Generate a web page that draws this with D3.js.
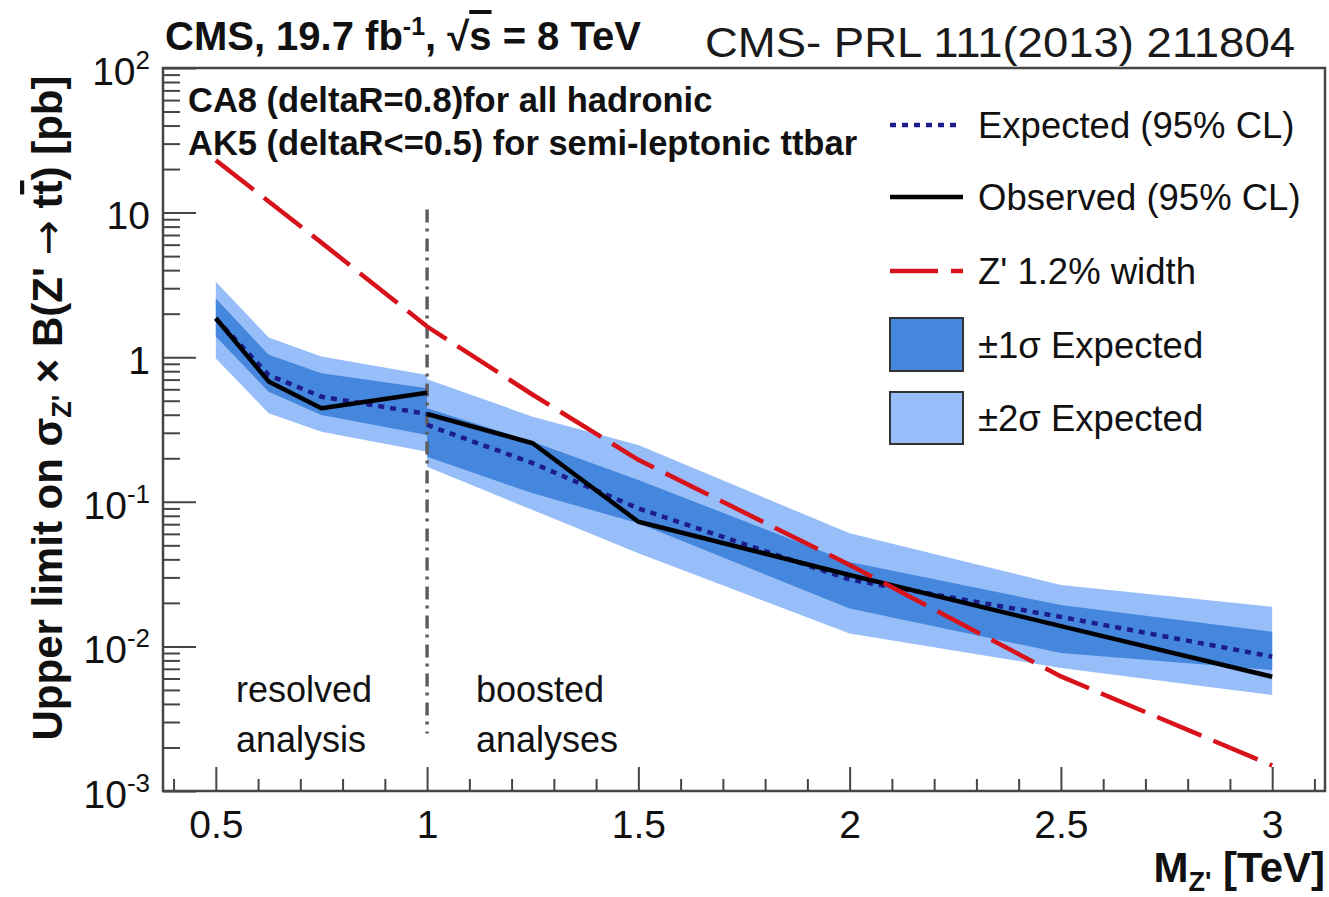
<!DOCTYPE html>
<html>
<head>
<meta charset="utf-8">
<script src="https://cdn.jsdelivr.net/npm/d3@7"></script>
<style>
  html, body { margin: 0; padding: 0; background: #ffffff; }
  svg text { font-family: "Liberation Sans", Arial, Helvetica, sans-serif; fill: #111; }
</style>
</head>
<body>
<svg id="chart" width="1329" height="897"></svg>
<script>
// ---- Limits on sigma(Z') x B(Z' -> ttbar), in pb, versus Z' mass in TeV ----

// Resolved analysis (low mass)
const resolvedMass     = [0.5, 0.625, 0.75, 1.0];
const resolvedObserved = [1.86, 0.68, 0.443, 0.568];
const resolvedExpected = [1.85, 0.753, 0.533, 0.405];
const resolvedPlus1    = [2.55, 1.04, 0.774, 0.61];
const resolvedMinus1   = [1.39, 0.577, 0.398, 0.29];
const resolvedPlus2    = [3.33, 1.37, 1.01, 0.753];
const resolvedMinus2   = [0.98, 0.41, 0.305, 0.222];

// Boosted analyses (high mass)
const boostedMass     = [1.0, 1.25, 1.5, 2.0, 2.5, 3.0];
const boostedObserved = [0.405, 0.254, 0.0728, 0.0312, 0.0138, 0.00617];
const boostedExpected = [0.34, 0.185, 0.090, 0.0290, 0.016, 0.0085];
const boostedPlus1    = [0.443, 0.26, 0.1415, 0.0384, 0.0193, 0.0126];
const boostedMinus1   = [0.205, 0.1145, 0.071, 0.0183, 0.009, 0.00687];
const boostedPlus2    = [0.703, 0.388, 0.247, 0.0605, 0.0266, 0.0188];
const boostedMinus2   = [0.175, 0.0877, 0.044, 0.0123, 0.0071, 0.00461];

// Theory: Z' with 1.2% width
const zprimeMass = [0.5, 0.75, 1.0, 1.25, 1.5, 2.0, 2.5, 3.0];
const zprimeXsec = [23, 6.2, 1.63, 0.55, 0.195, 0.0366, 0.0062, 0.0015];

// Boundary between resolved and boosted regimes
const boundaryMass  = 1.0;
const boundaryRange = [0.0025, 10.5];

// Axes
const xDomain = [0.375, 3.125];
const yDomain = [1e-3, 1e2];
const xMajorTicks = [0.5, 1, 1.5, 2, 2.5, 3];
const xMinorTicks = [0.4, 0.6, 0.7, 0.8, 0.9, 1.1, 1.2, 1.3, 1.4, 1.6, 1.7, 1.8, 1.9,
                     2.1, 2.2, 2.3, 2.4, 2.6, 2.7, 2.8, 2.9, 3.1];
const yMajorTicks = [1e-3, 1e-2, 1e-1, 1, 10, 100];
const yMinorFactors = [2, 3, 4, 5, 6, 7, 8, 9];

const legendLabels = ["Expected (95% CL)", "Observed (95% CL)", "Z' 1.2% width",
                      "\u00B11\u03C3 Expected", "\u00B12\u03C3 Expected"];

// ---- styling ----
const colDark  = "#4587dc";
const colLight = "#98bef9";
const colExp   = "#1c1c8c";
const colObs   = "#000000";
const colZp    = "#d8121b";
const colAxis  = "#454545";

const plot = { left: 163, right: 1325, top: 68, bottom: 791 };
const svg = d3.select("#chart");

const x = d3.scaleLinear().domain(xDomain).range([plot.left, plot.right]);
const y = d3.scaleLog().domain(yDomain).range([plot.bottom, plot.top]);

svg.append("defs").append("clipPath").attr("id", "plotClip")
  .append("rect")
  .attr("x", plot.left).attr("y", plot.top)
  .attr("width", plot.right - plot.left).attr("height", plot.bottom - plot.top);

const g = svg.append("g").attr("clip-path", "url(#plotClip)");

function rows(mass, a, b) { return mass.map((m, i) => ({ m, a: a[i], b: b[i] })); }
const band = d3.area().x(d => x(d.m)).y0(d => y(d.a)).y1(d => y(d.b));
const line = d3.line().x(d => x(d.m)).y(d => y(d.a));

// bands, ±2σ then ±1σ
[[resolvedMass, resolvedMinus2, resolvedPlus2], [boostedMass, boostedMinus2, boostedPlus2]]
  .forEach(([m, lo, hi]) => g.append("path").attr("d", band(rows(m, lo, hi))).attr("fill", colLight));
[[resolvedMass, resolvedMinus1, resolvedPlus1], [boostedMass, boostedMinus1, boostedPlus1]]
  .forEach(([m, lo, hi]) => g.append("path").attr("d", band(rows(m, lo, hi))).attr("fill", colDark));

// regime boundary (dash-dot)
g.append("line")
  .attr("x1", x(boundaryMass)).attr("x2", x(boundaryMass))
  .attr("y1", y(boundaryRange[1])).attr("y2", y(boundaryRange[0]))
  .attr("stroke", "#5e5e5e").attr("stroke-width", 3.5)
  .attr("stroke-dasharray", "13,6,3,7");

// expected (dotted)
[[resolvedMass, resolvedExpected], [boostedMass, boostedExpected]].forEach(([m, v]) =>
  g.append("path").attr("d", line(rows(m, v, v))).attr("fill", "none")
    .attr("stroke", colExp).attr("stroke-width", 4.5).attr("stroke-dasharray", "6,6"));

// observed (solid)
[[resolvedMass, resolvedObserved], [boostedMass, boostedObserved]].forEach(([m, v]) =>
  g.append("path").attr("d", line(rows(m, v, v))).attr("fill", "none")
    .attr("stroke", colObs).attr("stroke-width", 4.5).attr("stroke-linejoin", "round"));

// Z' theory (long dash)
g.append("path").attr("d", line(rows(zprimeMass, zprimeXsec, zprimeXsec)))
  .attr("fill", "none").attr("stroke", colZp).attr("stroke-width", 4.5)
  .attr("stroke-dasharray", "48,13");

// ---- axes ----
function styleAxis(sel) {
  sel.select(".domain").remove();
  sel.selectAll(".tick line").attr("stroke", colAxis).attr("stroke-width", 2);
}

const xAxisG = svg.append("g").attr("transform", `translate(0,${plot.bottom})`)
  .call(d3.axisBottom(x).tickValues(xMajorTicks).tickSizeInner(-24).tickSizeOuter(0)
        .tickPadding(19).tickFormat(d3.format("")));
styleAxis(xAxisG);
xAxisG.selectAll("text").attr("font-size", 39).attr("fill", "#111")
  .attr("font-family", "Liberation Sans, Arial, sans-serif");

const xMinorG = svg.append("g").attr("transform", `translate(0,${plot.bottom})`)
  .call(d3.axisBottom(x).tickValues(xMinorTicks).tickSizeInner(-12).tickSizeOuter(0).tickFormat(""));
styleAxis(xMinorG);

const yMinorTicks = [];
yMajorTicks.slice(0, -1).forEach(t => yMinorFactors.forEach(f => yMinorTicks.push(t * f)));

const yAxisG = svg.append("g").attr("transform", `translate(${plot.left},0)`)
  .call(d3.axisLeft(y).tickValues(yMajorTicks).tickSizeInner(-33).tickSizeOuter(0)
        .tickPadding(13).tickFormat(d => String(Math.round(Math.log10(d)))));
styleAxis(yAxisG);
yAxisG.selectAll("text").each(function (d) {
  const t = d3.select(this);
  const e = Math.round(Math.log10(d));
  t.text(null).attr("font-size", 39).attr("dy", "0.42em").attr("fill", "#111")
   .attr("font-family", "Liberation Sans, Arial, sans-serif");
  if (e === 0) t.text("1");
  else if (e === 1) t.text("10");
  else {
    t.append("tspan").text("10");
    t.append("tspan").attr("dy", -16).attr("font-size", 26).text(e < 0 ? "-" + (-e) : String(e));
  }
});

const yMinorG = svg.append("g").attr("transform", `translate(${plot.left},0)`)
  .call(d3.axisLeft(y).tickValues(yMinorTicks).tickSizeInner(-17).tickSizeOuter(0).tickFormat(""));
styleAxis(yMinorG);

// frame
svg.append("rect")
  .attr("x", plot.left).attr("y", plot.top)
  .attr("width", plot.right - plot.left).attr("height", plot.bottom - plot.top)
  .attr("fill", "none").attr("stroke", colAxis).attr("stroke-width", 2.5);

// ---- axis titles ----
const yTitle = svg.append("text")
  .attr("transform", "translate(62,408) rotate(-90)")
  .attr("text-anchor", "middle").attr("font-size", 42).attr("font-weight", "bold");
yTitle.append("tspan").text("Upper limit on \u03C3");
yTitle.append("tspan").attr("font-size", 27).attr("dy", 9).text("Z'");
yTitle.append("tspan").attr("dy", -9).text(" \u00D7 B(Z' ");
yTitle.append("tspan").attr("font-family", "DejaVu Sans").attr("font-weight", "normal").text("\u2192");
yTitle.append("tspan").text(" t");
yTitle.append("tspan").style("text-decoration", "overline").text("t");
yTitle.append("tspan").text(") [pb]");

const xTitle = svg.append("text")
  .attr("x", plot.right).attr("y", 882)
  .attr("text-anchor", "end").attr("font-size", 42).attr("font-weight", "bold");
xTitle.append("tspan").text("M");
xTitle.append("tspan").attr("font-size", 27).attr("dy", 9).text("Z'");
xTitle.append("tspan").attr("dy", -9).text(" [TeV]");

// ---- header texts ----
const head = svg.append("text").attr("x", 165).attr("y", 50)
  .attr("font-size", 40).attr("font-weight", "bold");
head.append("tspan").text("CMS, 19.7 fb");
head.append("tspan").attr("font-size", 25).attr("dy", -15).text("-1");
head.append("tspan").attr("dy", 15).text(", \u221A");
head.append("tspan").style("text-decoration", "overline").text("s");
head.append("tspan").text(" = 8 TeV");

svg.append("text").attr("x", 705).attr("y", 57)
  .attr("font-family", "Lato, Roboto, Liberation Sans, sans-serif").attr("font-weight", 300)
  .attr("font-size", 42).attr("textLength", 590).attr("lengthAdjust", "spacingAndGlyphs")
  .style("fill", "#1a1a1a")
  .text("CMS- PRL 111(2013) 211804");

svg.append("text").attr("x", 188).attr("y", 112)
  .attr("font-size", 34.5).attr("font-weight", "bold")
  .text("CA8 (deltaR=0.8)for all hadronic");
svg.append("text").attr("x", 188).attr("y", 155)
  .attr("font-size", 34.5).attr("font-weight", "bold")
  .text("AK5 (deltaR<=0.5) for semi-leptonic ttbar");

// regime labels
[["resolved", "analysis", 236], ["boosted", "analyses", 476]].forEach(([a, b, px]) => {
  svg.append("text").attr("x", px).attr("y", 702).attr("font-size", 36).text(a);
  svg.append("text").attr("x", px).attr("y", 752).attr("font-size", 36).text(b);
});

// ---- legend ----
const lg = svg.append("g");
const legX = 890, legW = 73, legTextX = 978;
const rowY = [125, 197, 271, 345, 418];

lg.append("line").attr("x1", legX).attr("x2", legX + 68).attr("y1", rowY[0]).attr("y2", rowY[0])
  .attr("stroke", colExp).attr("stroke-width", 4.5).attr("stroke-dasharray", "6,6");
lg.append("line").attr("x1", legX).attr("x2", legX + legW).attr("y1", rowY[1]).attr("y2", rowY[1])
  .attr("stroke", colObs).attr("stroke-width", 4.5);
lg.append("line").attr("x1", legX).attr("x2", legX + legW).attr("y1", rowY[2]).attr("y2", rowY[2])
  .attr("stroke", colZp).attr("stroke-width", 4.5).attr("stroke-dasharray", "48,13");
lg.append("rect").attr("x", legX).attr("y", rowY[3] - 27).attr("width", legW).attr("height", 53)
  .attr("fill", colDark).attr("stroke", "#333").attr("stroke-width", 2);
lg.append("rect").attr("x", legX).attr("y", rowY[4] - 26).attr("width", legW).attr("height", 52)
  .attr("fill", colLight).attr("stroke", "#333").attr("stroke-width", 2);

legendLabels.forEach((lab, i) => {
  lg.append("text").attr("x", legTextX).attr("y", rowY[i]).attr("dy", "0.35em")
    .attr("font-size", 36.5).text(lab);
});
</script>
</body>
</html>
